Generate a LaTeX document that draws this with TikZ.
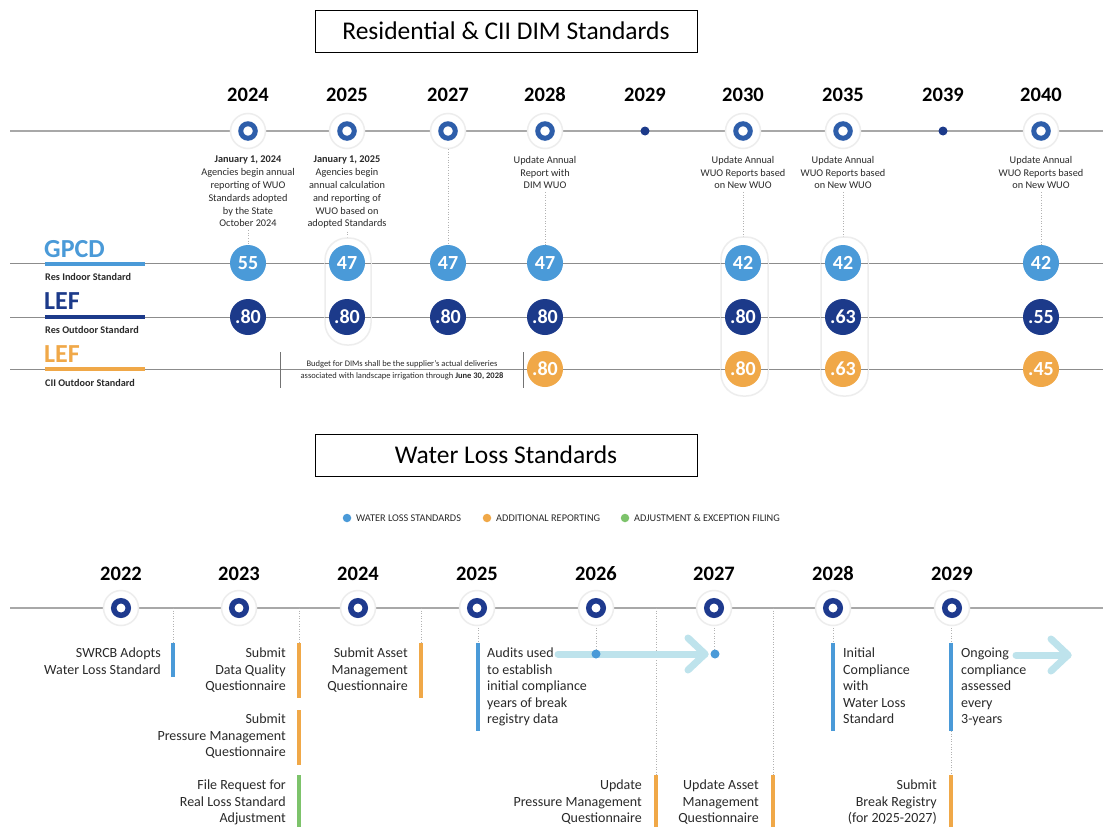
\documentclass[tikz,border=0pt]{standalone}
\usepackage{fontspec}
\setmainfont{Carlito}
\definecolor{lblue}{HTML}{4A9AD8}
\definecolor{navy}{HTML}{1C3A8A}
\definecolor{orng}{HTML}{F0A848}
\definecolor{ringtopc}{HTML}{2E5EAA}
\definecolor{ringbotc}{HTML}{1E3A8E}
\definecolor{gline}{HTML}{A8A8A8}
\definecolor{grn}{HTML}{7DC36B}
\definecolor{cyanarrow}{HTML}{BEE3EC}
\definecolor{txt}{HTML}{2A2A2A}
\tikzset{
  halo/.style={circle, fill=white, draw=black!7, line width=1.5pt, minimum size=35pt, inner sep=0pt},
  ringtop/.style={circle, draw=ringtopc, line width=5pt, minimum size=14.5pt, inner sep=0pt},
  ringbot/.style={circle, draw=ringbotc, line width=5.5pt, minimum size=14.5pt, inner sep=0pt},
  dotmark/.style={circle, fill=navy, minimum size=9pt, inner sep=0pt},
  val/.style={circle, minimum size=36pt, inner sep=0pt, text=white, font=\fontsize{20}{20}\selectfont\bfseries},
  year/.style={anchor=base, inner sep=0pt, font=\fontsize{20.5}{21}\selectfont\bfseries},
  note/.style={anchor=north, inner sep=0pt, align=center, text=txt, font=\fontsize{10.3}{12.8}\selectfont},
  pill/.style={rounded corners=22pt, fill=white, draw=black!7, line width=1.5pt},
  dotline/.style={black!30, line width=0.6pt, dotted},
  rowline/.style={black!45, line width=1pt},
  vbar/.style={line width=4.5pt},
  wtxt/.style={inner sep=0pt, text=txt, font=\fontsize{14}{16.4}\selectfont},
  wl/.style={wtxt, anchor=north east, align=right},
  wr/.style={wtxt, anchor=north west, align=left},
  rowlab/.style={anchor=base west, inner sep=0pt, font=\fontsize{26}{26}\selectfont\bfseries},
  rowsub/.style={anchor=base west, inner sep=0pt, text=txt, font=\fontsize{10.2}{11}\selectfont\bfseries},
  legdot/.style={circle, minimum size=8.5pt, inner sep=0pt},
  legtxt/.style={anchor=west, inner sep=0pt, text=txt, font=\fontsize{10.3}{11}\selectfont},
  titlebox/.style={draw=black, line width=0.8pt, minimum width=382pt, minimum height=42pt, inner sep=0pt, font=\fontsize{25.5}{26}\selectfont},
  bigarrow/.style={cyanarrow, line width=7pt, line cap=round, line join=round}
}
\begin{document}
\begin{tikzpicture}[x=1pt,y=-1pt]
\useasboundingbox (0,0) rectangle (1103,827);
\fill[white] (0,0) rectangle (1103,827);

% ---------- titles ----------
\node[titlebox] (title1) at (506,31) {Residential \& CII DIM Standards};
\node[titlebox] (title2) at (506,455) {Water Loss Standards};

% ---------- top timeline ----------
\draw[gline, line width=1.4pt] (10,131) -- (1103,131);

% row lines
\draw[rowline] (10,263) -- (1103,263);
\draw[rowline] (10,317) -- (1103,317);
\draw[rowline] (10,369) -- (1103,369);

% notes
\node[note] (na) at (248,156) {\textbf{January 1, 2024}\\Agencies begin annual\\reporting of WUO\\Standards adopted\\by the State\\October 2024};
\node[note] (nb) at (347,156) {\textbf{January 1, 2025}\\Agencies begin\\annual calculation\\and reporting of\\WUO based on\\adopted Standards};
\node[note] (nd) at (545,156) {Update Annual\\Report with\\DIM WUO};
\node[note] (nf) at (743,156) {Update Annual\\WUO Reports based\\on New WUO};
\node[note] (ng) at (843,156) {Update Annual\\WUO Reports based\\on New WUO};
\node[note] (nh) at (1041,156) {Update Annual\\WUO Reports based\\on New WUO};

% halos & year labels
\foreach \x/\n in {248/a,347/b,448/c,545/d,743/f,843/g,1041/h}{
  \node[halo] (t\n) at (\x,131) {};
  \node[ringtop] (r\n) at (t\n) {};
}
\node[dotmark] (te) at (645,131) {};
\node[dotmark] (ti) at (943,131) {};
\foreach \x/\y/\n in {248/2024/a,347/2025/b,448/2027/c,545/2028/d,645/2029/e,743/2030/f,843/2035/g,943/2039/i,1041/2040/h}
  \node[year] (y\n) at (\x,101) {\y};

% value circle coordinates (for dotted connectors)
\foreach \x/\n in {248/a,347/b,448/c,545/d,743/f,843/g,1041/h}
  \coordinate (top\n) at (\x,245);
\draw[dotline] (na.south) ++(0,3) -- (topa);
\draw[dotline] (nb.south) ++(0,3) -- (topb);
\draw[dotline] (tc.south) -- (topc);
\draw[dotline] (nd.south) ++(0,3) -- (topd);
\draw[dotline] (nf.south) ++(0,3) -- (topf);
\draw[dotline] (ng.south) ++(0,3) -- (topg);
\draw[dotline] (nh.south) ++(0,3) -- (toph);

% pills
\draw[pill] (325,238) rectangle (371,345);
\draw[pill] (721,237) rectangle (768,396);
\draw[pill] (821,237) rectangle (868,396);
\draw[rowline] (325,263) -- (371,263);
\draw[rowline] (325,317) -- (371,317);
\draw[rowline] (721,263) -- (768,263);
\draw[rowline] (721,317) -- (768,317);
\draw[rowline] (721,369) -- (768,369);
\draw[rowline] (821,263) -- (868,263);
\draw[rowline] (821,317) -- (868,317);
\draw[rowline] (821,369) -- (868,369);

% row labels
\node[rowlab, text=lblue] (gpcd) at (44,257) {GPCD};
\draw[lblue, line width=4pt] (45,264) -- (145,264);
\node[rowsub] (gpcdsub) at (45,280) {Res Indoor Standard};
\node[rowlab, text=navy] (lef1) at (44,309) {LEF};
\draw[navy, line width=4pt] (45,317) -- (145,317);
\node[rowsub] (lef1sub) at (45,333) {Res Outdoor Standard};
\node[rowlab, text=orng] (lef2) at (44,362) {LEF};
\draw[orng, line width=4pt] (45,369) -- (145,369);
\node[rowsub] (lef2sub) at (45,386) {CII Outdoor Standard};

% value circles
\foreach \x/\n/\v in {248/a/55,347/b/47,448/c/47,545/d/47,743/f/42,843/g/42,1041/h/42}
  \node[val, fill=lblue] (g\n) at (\x,263) {\v};
\foreach \x/\n/\v in {248/a/.80,347/b/.80,448/c/.80,545/d/.80,743/f/.80,843/g/.63,1041/h/.55}
  \node[val, fill=navy] (l\n) at (\x,317) {\v};
\foreach \x/\n/\v in {545/d/.80,743/f/.80,843/g/.63,1041/h/.45}
  \node[val, fill=orng] (c\n) at (\x,369) {\v};

% budget note
\node[inner sep=0pt, align=center, text=txt, font=\fontsize{8.5}{12.2}\selectfont] (budget) at (402,370)
  {Budget for DIMs shall be the supplier's actual deliveries\\associated with landscape irrigation through \textbf{June 30, 2028}};
\draw[black!55, line width=0.8pt] (280,352) -- (280,388);
\draw[black!55, line width=0.8pt] (523,352) -- (523,388);

% ---------- legend ----------
\node[legdot, fill=lblue] (leg1) at (347,518) {};
\node[legtxt] (legt1) at (356,518.5) {WATER LOSS STANDARDS};
\node[legdot, fill=orng] (leg2) at (487,518) {};
\node[legtxt] (legt2) at (496,518.5) {ADDITIONAL REPORTING};
\node[legdot, fill=grn] (leg3) at (625,518) {};
\node[legtxt] (legt3) at (634,518.5) {ADJUSTMENT \& EXCEPTION FILING};

% ---------- bottom timeline ----------
\draw[gline, line width=1.4pt] (10,608) -- (1103,608);

% dotted verticals
\draw[dotline] (173,608) -- (173,643);
\draw[dotline] (299,608) -- (299,643);
\draw[dotline] (421,608) -- (421,643);
\draw[dotline] (656,608) -- (656,775);
\draw[dotline] (773,608) -- (773,775);
\draw[dotline] (951,731) -- (951,775);
\draw[dotline] (478,620) -- (478,643);
\draw[dotline] (833,620) -- (833,643);
\draw[dotline] (951,620) -- (951,643);
\draw[dotline] (596,620) -- (596,654);
\draw[dotline] (714,620) -- (714,654);

\foreach \x/\y/\n in {121/2022/1,239/2023/2,358/2024/3,477/2025/4,596/2026/5,714/2027/6,833/2028/7,952/2029/8}{
  \node[halo] (b\n) at (\x,608) {};
  \node[ringbot] (br\n) at (b\n) {};
  \node[year] (by\n) at (\x,580) {\y};
}

% arrows
\coordinate (a1s) at (558,654);
\coordinate (a1e) at (705,654);
\draw[bigarrow] (a1s) -- (a1e);
\draw[bigarrow] (688,638) -- (a1e) -- (688,670);
\coordinate (a2s) at (1016,655);
\coordinate (a2e) at (1068,655);
\draw[bigarrow] (a2s) -- (a2e);
\draw[bigarrow] (1051,639) -- (a2e) -- (1051,671);
\node[circle, fill=lblue, minimum size=9pt, inner sep=0pt] (d1) at (596,654) {};
\node[circle, fill=lblue, minimum size=9pt, inner sep=0pt] (d2) at (715,654) {};

% bars
\draw[vbar, lblue] (173,643) -- (173,677);
\draw[vbar, orng] (299,643) -- (299,698);
\draw[vbar, orng] (299,710) -- (299,765);
\draw[vbar, grn] (299,775) -- (299,827);
\draw[vbar, orng] (421,643) -- (421,698);
\draw[vbar, lblue] (478,643) -- (478,731);
\draw[vbar, orng] (656,775) -- (656,827);
\draw[vbar, orng] (773,775) -- (773,827);
\draw[vbar, lblue] (833,643) -- (833,731);
\draw[vbar, lblue] (951,643) -- (951,731);
\draw[vbar, orng] (951,775) -- (951,827);

% texts
\node[wl] (w1) at (161,648) {SWRCB Adopts\\Water Loss Standard};
\node[wl] (w2) at (286,648) {Submit\\Data Quality\\Questionnaire};
\node[wl] (w3) at (286,714) {Submit\\Pressure Management\\Questionnaire};
\node[wl] (w4) at (286,780) {File Request for\\Real Loss Standard\\Adjustment};
\node[wl] (w5) at (408,648) {Submit Asset\\Management\\Questionnaire};
\node[wr] (w6) at (487,648) {Audits used\\to establish\\initial compliance\\years of break\\registry data};
\node[wl] (w7) at (642,780) {Update\\Pressure Management\\Questionnaire};
\node[wl] (w8) at (759,780) {Update Asset\\Management\\Questionnaire};
\node[wr] (w9) at (843,648) {Initial\\Compliance\\with\\Water Loss\\Standard};
\node[wr] (w10) at (961,648) {Ongoing\\compliance\\assessed\\every\\3-years};
\node[wl] (w11) at (937,780) {Submit\\Break Registry\\(for 2025-2027)};
\end{tikzpicture}
\end{document}
